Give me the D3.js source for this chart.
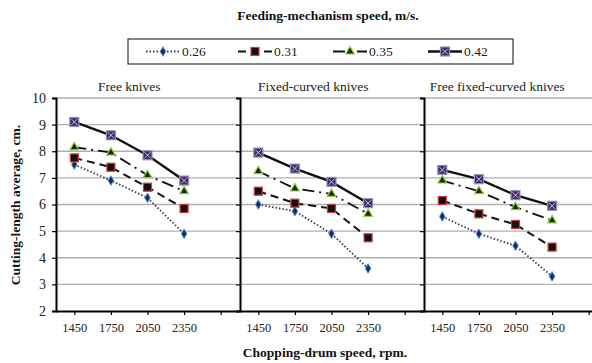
<!DOCTYPE html>
<html>
<head>
<meta charset="utf-8">
<script src="https://cdn.jsdelivr.net/npm/d3@7"></script>
<style>
  body { margin: 0; background: #fff; }
  svg text { font-family: "Liberation Serif", "Times New Roman", Times, serif; }
</style>
</head>
<body>
<svg width="592" height="363"></svg>
<script>
// categories and series
var speeds = ['1450', '1750', '2050', '2350'];
var seriesNames = ['0.26', '0.31', '0.35', '0.42'];
var panelTitles = ['Free knives', 'Fixed-curved knives', 'Free fixed-curved knives'];
var yTicks = [2, 3, 4, 5, 6, 7, 8, 9, 10];

// values per panel, one row per series (0.26, 0.31, 0.35, 0.42)
var freeKnives = [
    [7.5, 6.9, 6.25, 4.9],
    [7.75, 7.4, 6.65, 5.85],
    [8.15, 7.95, 7.1, 6.5],
    [9.1, 8.6, 7.85, 6.9]
];
var fixedCurved = [
    [6.0, 5.75, 4.9, 3.6],
    [6.5, 6.05, 5.85, 4.75],
    [7.25, 6.6, 6.4, 5.65],
    [7.95, 7.35, 6.85, 6.05]
];
var freeFixedCurved = [
    [5.55, 4.9, 4.45, 3.3],
    [6.15, 5.65, 5.25, 4.4],
    [6.9, 6.5, 5.9, 5.4],
    [7.3, 6.95, 6.35, 5.95]
];
var panelData = [freeKnives, fixedCurved, freeFixedCurved];

// looks for each series
var dashes = ['1.5,2', '8,5', '12,5,2,5', null];
var lineWidths = [1.8, 2, 1.8, 2.4];
var lineColors = ['#333a4a', '#111', '#111', '#111'];

var svg = d3.select('svg');

var plotTop = 98, plotBottom = 311;
var panelLeft = [56, 240, 424];
var panelWidth = 183;

var y = d3.scaleLinear().domain([2, 10]).range([plotBottom, plotTop]);

// draws one marker at 0,0
function marker(g, i) {
    if (i == 0) {
        g.append('path').attr('d', d3.symbol(d3.symbolDiamond, 26)())
            .attr('fill', '#1a2a5a').attr('stroke', '#4a90d8').attr('stroke-width', 1);
    } else if (i == 1) {
        g.append('rect').attr('x', -4).attr('y', -4).attr('width', 8).attr('height', 8)
            .attr('fill', '#111').attr('stroke', '#d23a3a').attr('stroke-width', 1.2);
    } else if (i == 2) {
        g.append('path').attr('d', d3.symbol(d3.symbolTriangle, 32)())
            .attr('fill', '#1a2a10').attr('stroke', '#8fcf3a').attr('stroke-width', 1.2);
    } else {
        g.append('rect').attr('x', -4.5).attr('y', -4.5).attr('width', 9).attr('height', 9)
            .attr('fill', '#3a2e5e').attr('stroke', '#9a8ec8').attr('stroke-width', 1.2);
        g.append('path').attr('d', 'M-3,-3L3,3M-3,3L3,-3')
            .attr('stroke', '#c8c0e8').attr('stroke-width', 1);
    }
}

panelData.forEach(function(rows, p) {
    var left = panelLeft[p];
    var x = d3.scalePoint().domain(speeds.concat([''])).range([left, left + panelWidth]).padding(0.5);
    var g = svg.append('g');

    // gridlines
    g.selectAll('line.grid').data(yTicks.slice(1)).enter().append('line')
        .attr('class', 'grid')
        .attr('x1', left).attr('x2', left + panelWidth - 1)
        .attr('y1', function(d) { return y(d); }).attr('y2', function(d) { return y(d); })
        .attr('stroke', '#b0b0b0').attr('stroke-width', 1.4);

    // y axis
    var yAxis = d3.axisLeft(y).tickValues(yTicks).tickSize(4).tickPadding(6);
    if (p > 0) yAxis.tickFormat('');
    var ya = g.append('g').attr('transform', 'translate(' + left + ',0)').call(yAxis);
    ya.attr('font-family', null);
    ya.select('.domain').attr('stroke', '#000').attr('stroke-width', 2);
    ya.selectAll('.tick line').attr('stroke', '#000').attr('stroke-width', 1.2);
    ya.selectAll('text').attr('font-size', 14).attr('fill', '#222');

    // x axis
    var xAxis = d3.axisBottom(x).tickSize(4).tickSizeOuter(0).tickPadding(8);
    var xa = g.append('g').attr('transform', 'translate(0,' + plotBottom + ')').call(xAxis);
    xa.attr('font-family', null);
    xa.select('.domain').attr('stroke', '#000').attr('stroke-width', 2);
    xa.selectAll('.tick line').attr('stroke', '#000').attr('stroke-width', 1.2);
    xa.selectAll('text').attr('font-size', 12.5).attr('fill', '#222');

    // panel title, centred over the points
    g.append('text')
        .attr('x', (x(speeds[0]) + x(speeds[3])) / 2).attr('y', 91)
        .attr('text-anchor', 'middle').attr('font-size', 13.5).attr('fill', '#222')
        .text(panelTitles[p]);

    // lines and markers
    var line = d3.line()
        .x(function(d, i) { return x(speeds[i]); })
        .y(function(d) { return y(d); });

    rows.forEach(function(vals, s) {
        g.append('path').datum(vals)
            .attr('d', line)
            .attr('fill', 'none')
            .attr('stroke', lineColors[s])
            .attr('stroke-width', lineWidths[s])
            .attr('stroke-dasharray', dashes[s]);
    });
    rows.forEach(function(vals, s) {
        vals.forEach(function(v, i) {
            var m = g.append('g').attr('transform', 'translate(' + x(speeds[i]) + ',' + y(v) + ')');
            marker(m, s);
        });
    });
});

// top title
svg.append('text')
    .attr('x', 328).attr('y', 20)
    .attr('text-anchor', 'middle').attr('font-size', 13.5).attr('font-weight', 'bold').attr('fill', '#111')
    .text('Feeding-mechanism speed, m/s.');

// legend
var lg = svg.append('g');
lg.append('rect').attr('x', 128).attr('y', 39).attr('width', 385).attr('height', 25)
    .attr('fill', '#fff').attr('stroke', '#333').attr('stroke-width', 1.2);
var legendX = [146, 238, 333, 428];
seriesNames.forEach(function(name, s) {
    var lx = legendX[s];
    lg.append('line').attr('x1', lx).attr('x2', lx + 34).attr('y1', 51.5).attr('y2', 51.5)
        .attr('stroke', lineColors[s]).attr('stroke-width', lineWidths[s])
        .attr('stroke-dasharray', dashes[s]);
    var m = lg.append('g').attr('transform', 'translate(' + (lx + 17) + ',51.5)');
    marker(m, s);
    lg.append('text').attr('x', lx + 36).attr('y', 56).attr('font-size', 13.5).attr('fill', '#222')
        .text(name);
});

// axis titles
svg.append('text')
    .attr('transform', 'translate(20,205) rotate(-90)')
    .attr('text-anchor', 'middle').attr('font-size', 13.5).attr('font-weight', 'bold').attr('fill', '#111')
    .text('Cutting-length average, cm.');

svg.append('text')
    .attr('x', 325).attr('y', 357)
    .attr('text-anchor', 'middle').attr('font-size', 13.5).attr('font-weight', 'bold').attr('fill', '#111')
    .text('Chopping-drum speed, rpm.');
</script>
</body>
</html>
